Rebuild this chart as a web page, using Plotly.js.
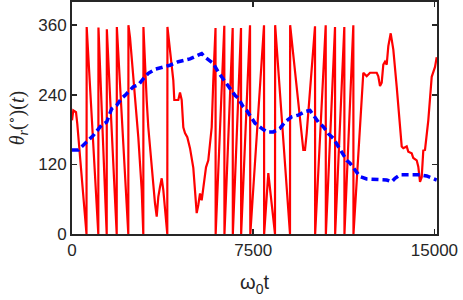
<!DOCTYPE html>
<html>
<head>
<meta charset="utf-8">
<script src="https://cdn.plot.ly/plotly-3.0.1.min.js"></script>
<style>html,body{margin:0;padding:0;background:#fff;}#chart{width:463px;height:300px;}</style>
</head>
<body>
<div id="chart"></div>
<script>
// Red series: theta_r (deg) vs omega_0 t
const redT = [0,54,166,219,600,
  608,1089,1095,1436,1442,1850,1856,2330,2336,
  2401,2471,2537,2608,2744,2885,2951,
  2957,3022,3092,3158,3228,3299,3365,3435,3506,3572,3642,3713,3779,3849,3944,
  3950,4056,4126,4193,4234,4400,4470,4540,4607,4677,4772,4884,5021,5161,5228,5298,5368,5435,5546,5641,5782,5848,5940,
  5946,6304,6310,6651,6657,6995,7001,7368,7380,7947,7953,8125,8402,8408,9023,9029,
  9574,9644,9714,9781,9851,10058,
  10064,10501,10507,10886,10892,11271,11277,11644,11650,
  12057,12197,12334,12612,12678,12748,12818,12885,12955,13025,13092,13191,13299,13439,13576,13646,13712,13853,13919,14060,14126,14267,14333,14404,14474,14540,14610,14747,14888,14954,15025,15095];
const redTheta = [196,213,210,190,0,
  357,0,356,0,353,0,357,0,360,
  339,305,282,242,167,76,0,
  357,288,230,184,150,116,81,53,30,64,81,96,76,47,0,
  357,311,282,265,231,231,244,231,184,174,167,148,114,36,50,70,58,81,115,127,184,264,355,
  0,359,0,355,0,355,0,360,0,360,0,105,0,360,0,360,
  145,145,174,213,242,358,
  0,360,0,357,0,357,0,360,0,
  278,272,278,278,272,255,261,292,297,292,324,346,318,254,179,151,148,151,142,139,131,127,116,90,98,144,145,196,271,279,288,305];

// Blue series: smoothed theta
const blueT = [0,261,538,882,1229,1436,1643,1850,2057,2194,2537,2744,3022,3158,3435,3779,4056,4400,4677,4884,5091,5368,5505,5712,5848,6055,6196,6403,6540,6747,6884,7090,7231,7438,7575,7852,8059,8332,8609,8816,9093,9367,9644,9851,9987,10194,10401,10608,10815,11022,11163,11370,11506,11713,11920,12197,12612,13025,13232,13369,13576,13990,14404,14681,14954,15095];
const blueTheta = [145,145,156,170,188,193,216,222,234,239,254,257,271,277,284,288,291,297,300,302,306,311,305,298,294,279,271,259,251,239,234,219,213,199,191,182,176,176,182,193,202,205,211,213,205,193,185,173,165,150,142,127,122,110,99,95,94,93,90,96,102,102,102,100,96,93];

const xTicks = [0, 7500, 15000];
const yTicks = [0, 120, 240, 360];

const axisColor = '#262626';
const data = [
  {x: redT, y: redTheta, type: 'scatter', mode: 'lines',
   line: {color: '#ff0000', width: 2.2}, hoverinfo: 'skip'},
  {x: blueT, y: blueTheta, type: 'scatter', mode: 'lines',
   line: {color: '#0000ff', width: 3.5, dash: '7px,4px'}, hoverinfo: 'skip'}
];
const layout = {
  width: 463, height: 300,
  margin: {l: 72, r: 26, t: 2, b: 66},
  paper_bgcolor: '#fff', plot_bgcolor: '#fff',
  showlegend: false,
  font: {family: 'Liberation Sans, Arial, sans-serif', color: axisColor, size: 17},
  xaxis: {
    range: [0, 15107], tickvals: xTicks, ticktext: xTicks.map(String),
    showgrid: false, zeroline: false, showline: true, linecolor: axisColor, linewidth: 2,
    mirror: 'ticks', ticks: 'inside', ticklen: 5, tickwidth: 1.5, tickcolor: axisColor,
    tickfont: {size: 17, color: axisColor},
    title: {text: 'ω<sub>0</sub>t', font: {size: 20, color: axisColor}, standoff: 16}
  },
  yaxis: {
    range: [0, 400], tickvals: yTicks, ticktext: yTicks.map(String),
    showgrid: false, zeroline: false, showline: true, linecolor: axisColor, linewidth: 2,
    mirror: 'ticks', ticks: 'inside', ticklen: 5, tickwidth: 1.5, tickcolor: axisColor,
    tickfont: {size: 17, color: axisColor},
    title: {text: '<i>θ</i><sub><i>r</i></sub>(<sup>∘</sup>)(<i>t</i>)', font: {family: 'Liberation Serif, DejaVu Serif, serif', size: 20, color: axisColor}, standoff: 8}
  }
};
Plotly.newPlot('chart', data, layout, {staticPlot: true, displayModeBar: false});
</script>
</body>
</html>
